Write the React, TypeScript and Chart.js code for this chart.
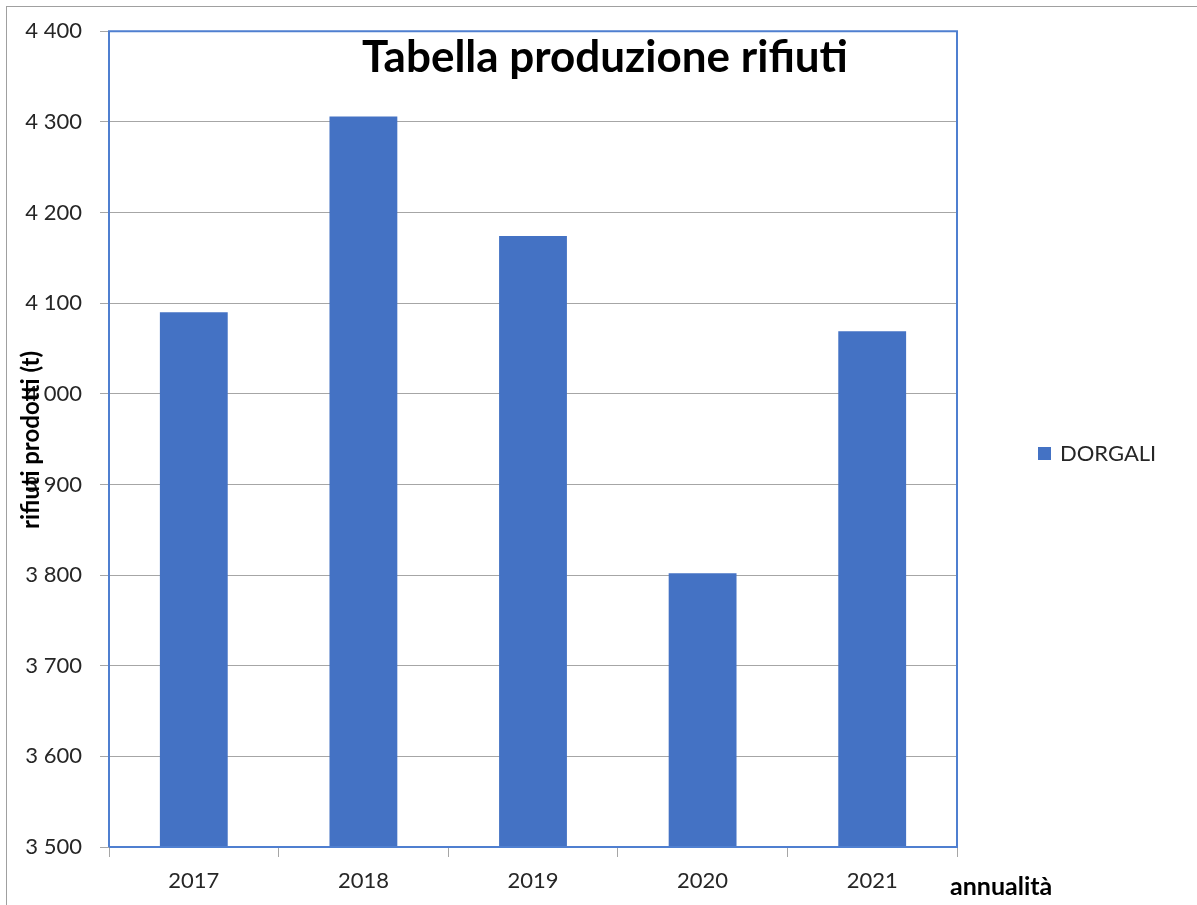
import React, { useEffect, useRef } from "react";
import { Chart, registerables } from "chart.js";

Chart.register(...registerables);

const categories = ["2017", "2018", "2019", "2020", "2021"];
const seriesName = "DORGALI";
const values = [4090, 4306, 4174, 3802, 4069];
const yMin = 3500;
const yMax = 4400;
const yStep = 100;
const chartTitle = "Tabella produzione rifiuti";
const yTitle = "rifiuti prodotti (t)";
const xTitle = "annualità";

const FONT = "Lato, 'Noto Sans', sans-serif";
const BLUE = "#4472C4";

function fmt(v: number): string {
  const th = Math.floor(v / 1000);
  const rest = String(Math.round(v % 1000)).padStart(3, "0");
  return th > 0 ? `${th} ${rest}` : String(v);
}

const decorPlugin = {
  id: "decor",
  beforeDraw(chart: any) {
    const ctx = chart.ctx;
    ctx.save();
    ctx.fillStyle = "#ffffff";
    ctx.fillRect(0, 0, chart.width, chart.height);
    ctx.strokeStyle = "#a0a0a0";
    ctx.lineWidth = 1;
    ctx.strokeRect(6.5, 6.5, chart.width + 10, chart.height + 10);
    ctx.restore();
  },
  afterDraw(chart: any) {
    const ctx = chart.ctx;
    const a = chart.chartArea;
    ctx.save();
    // plot border
    ctx.strokeStyle = "#4f7fd0";
    ctx.lineWidth = 2;
    ctx.beginPath();
    ctx.moveTo(a.left, a.bottom);
    ctx.lineTo(a.left, a.top);
    ctx.lineTo(a.right, a.top);
    ctx.lineTo(a.right, a.bottom);
    ctx.lineTo(a.left, a.bottom);
    ctx.stroke();

    // title
    ctx.fillStyle = "#000000";
    ctx.textAlign = "center";
    ctx.textBaseline = "middle";
    ctx.font = `bold 44px ${FONT}`;
    ctx.fillText(chartTitle, 605, 58);

    // y title
    ctx.save();
    ctx.translate(31, 440);
    ctx.rotate(-Math.PI / 2);
    ctx.font = `bold 24px ${FONT}`;
    ctx.fillText(yTitle, 0, 0);
    ctx.restore();

    // x title
    ctx.textAlign = "left";
    ctx.font = `bold 25px ${FONT}`;
    ctx.fillText(xTitle, 950, 887);

    // legend
    ctx.fillStyle = BLUE;
    ctx.fillRect(1038, 447, 13, 13);
    ctx.fillStyle = "#262626";
    ctx.font = `22px ${FONT}`;
    ctx.fillText(seriesName, 1060, 454);
    ctx.restore();
  },
};

export default function App() {
  const ref = useRef<HTMLCanvasElement | null>(null);
  useEffect(() => {
    document.body.style.margin = "0";
    const canvas = ref.current;
    if (!canvas) return;
    const chart = new Chart(canvas, {
      type: "bar",
      data: {
        labels: categories,
        datasets: [
          {
            label: seriesName,
            data: values,
            backgroundColor: BLUE,
            borderWidth: 0,
            categoryPercentage: 1,
            barPercentage: 0.4,
          },
        ],
      },
      options: {
        responsive: false,
        animation: false,
        maintainAspectRatio: false,
        layout: { padding: { top: 30, right: 240, left: 0, bottom: 0 } },
        plugins: {
          legend: { display: false },
          title: { display: false },
          tooltip: { enabled: false },
        },
        scales: {
          x: {
            afterFit(scale: any) {
              scale.height = 58;
            },
            grid: {
              offset: true,
              drawOnChartArea: false,
              drawTicks: true,
              tickLength: 10,
              color: "#a6a6a6",
            },
            border: { display: true, color: "#a6a6a6" },
            ticks: {
              color: "#262626",
              font: { family: FONT, size: 22 },
              padding: 11,
              maxRotation: 0,
            },
          },
          y: {
            min: yMin,
            max: yMax,
            afterFit(scale: any) {
              scale.width = 109;
            },
            grid: {
              color: "#a6a6a6",
              drawTicks: true,
              tickLength: 9,
            },
            border: { display: false },
            ticks: {
              stepSize: yStep,
              color: "#262626",
              font: { family: FONT, size: 22 },
              padding: 18,
              callback: (v: any) => fmt(Number(v)),
            },
          },
        },
      },
      plugins: [decorPlugin],
    });
    return () => chart.destroy();
  }, []);
  return (
    <div style={{ width: 1197, height: 905 }}>
      <canvas ref={ref} width={1197} height={905} style={{ display: "block" }} />
    </div>
  );
}
